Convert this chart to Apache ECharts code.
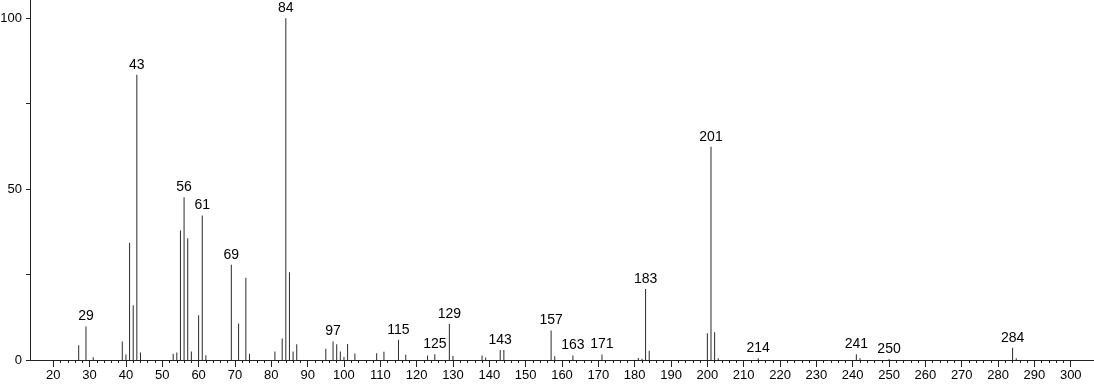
<!DOCTYPE html>
<html>
<head>
<meta charset="utf-8">
<script src="https://cdn.jsdelivr.net/npm/echarts@6/dist/echarts.min.js"></script>
<style>
html,body{margin:0;padding:0;background:#fff;}
#chart{width:1094px;height:384px;}
</style>
</head>
<body>
<div id="chart"></div>
<script>
// m/z values and relative intensities (%)
const mzValues = [27, 29, 31, 39, 40, 41, 42, 43, 44, 53, 54, 55, 56, 57, 58, 60, 61, 62,
  69, 71, 73, 74, 81, 83, 84, 85, 86, 87, 95, 97, 98, 99, 100, 101, 103,
  109, 111, 115, 117, 123, 125, 129, 130, 138, 139, 143, 144, 157, 158, 163, 171,
  181, 182, 183, 184, 200, 201, 202, 203, 214, 241, 242, 250, 284, 285];
const intensities = [4.3, 9.8, 0.8, 5.4, 1.6, 34.3, 16.0, 83.5, 2.2, 1.8, 2.2, 37.9, 47.6, 35.6, 2.5, 13.1, 42.3, 1.4,
  27.9, 10.7, 24.1, 1.8, 2.5, 6.3, 100, 25.7, 2.5, 4.6, 3.3, 5.4, 4.6, 2.5, 0.9, 4.7, 1.9,
  2.0, 2.4, 5.9, 1.5, 1.3, 1.7, 10.5, 1.2, 1.3, 0.7, 2.9, 2.9, 8.6, 1.1, 1.3, 1.6,
  0.6, 0.4, 20.8, 2.7, 7.8, 62.4, 8.1, 0.5, 0.5, 1.7, 0.5, 0.3, 3.6, 0.5];
const labeledPeaks = [29, 43, 56, 61, 69, 84, 97, 115, 125, 129, 143, 157, 163, 171, 183, 201, 214, 241, 250, 284];
const xMajorTicks = [20, 30, 40, 50, 60, 70, 80, 90, 100, 110, 120, 130, 140, 150, 160, 170, 180, 190, 200,
  210, 220, 230, 240, 250, 260, 270, 280, 290, 300];
const xMinorTicks = [];
for (let v = 22; v < 300; v += 2) { if (v % 10 !== 0) xMinorTicks.push(v); }
const yTicks = [0, 25, 50, 75, 100];
const yLabels = [0, 50, 100];

const FONT = '"Liberation Sans", Arial, sans-serif';
const AXIS_COLOR = '#222';
const X_MIN = 13.6, X_MAX = 306.4, Y_MAX = 105.35;

const seriesData = mzValues.map((m, i) => ({
  value: [m, intensities[i]],
  label: { show: labeledPeaks.includes(m) }
}));

const chart = echarts.init(document.getElementById('chart'), null, { renderer: 'canvas' });
chart.setOption({
  animation: false,
  backgroundColor: '#fff',
  grid: { left: 30, right: 0, top: 0, bottom: 24, containLabel: false, outerBoundsMode: 'none' },
  xAxis: [{
    type: 'value', min: X_MIN, max: X_MAX,
    axisLine: { show: true, lineStyle: { color: AXIS_COLOR, width: 1 } },
    axisTick: { show: true, length: 7, customValues: xMajorTicks, lineStyle: { color: AXIS_COLOR } },
    axisLabel: { customValues: xMajorTicks, margin: 9, fontSize: 13, color: '#000', fontFamily: FONT },
    splitLine: { show: false }
  }, {
    type: 'value', min: X_MIN, max: X_MAX, position: 'bottom',
    axisLine: { show: false },
    axisTick: { show: true, length: 3, customValues: xMinorTicks, lineStyle: { color: AXIS_COLOR } },
    axisLabel: { show: false },
    splitLine: { show: false }
  }],
  yAxis: {
    type: 'value', min: 0, max: Y_MAX,
    axisLine: { show: true, lineStyle: { color: AXIS_COLOR, width: 1 } },
    axisTick: { show: true, length: 4, customValues: yTicks, lineStyle: { color: AXIS_COLOR } },
    axisLabel: { customValues: yLabels, margin: 8, fontSize: 13, color: '#000', fontFamily: FONT },
    splitLine: { show: false }
  },
  series: [{
    type: 'bar',
    xAxisIndex: 0,
    barWidth: 1,
    itemStyle: { color: '#2a2a2a' },
    label: { position: 'top', distance: 3, fontSize: 14, color: '#000', fontFamily: FONT,
      formatter: p => String(p.value[0]) },
    data: seriesData
  }]
});
</script>
</body>
</html>
